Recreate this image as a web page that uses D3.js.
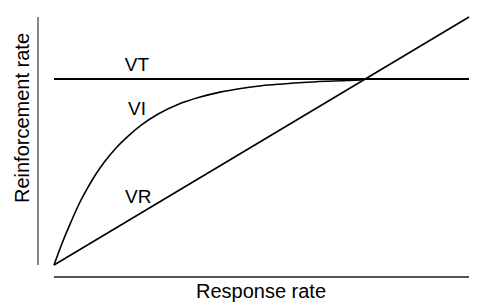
<!DOCTYPE html>
<html>
<head>
<meta charset="utf-8">
<script src="https://cdn.jsdelivr.net/npm/d3@7"></script>
<style>
  body { margin: 0; background: #fff; }
  svg { display: block; font-family: "Liberation Sans", Arial, sans-serif; }
</style>
</head>
<body>
<svg id="chart" width="485" height="306"></svg>
<script>
// response rate (x) vs reinforcement rate (y), both 0-100 arbitrary units
const vtLevel = 75;
const vrPoints = [[0, 0], [100, 100]];
const viX = [0, 2, 4, 6, 8, 10, 12, 15, 18, 21, 25, 30, 35, 40, 45, 50, 55, 60, 66, 74];
const viY = [0, 9.0, 17.0, 24.5, 30.8, 36.4, 41.2, 47.3, 52.2, 56.4, 60.8, 64.8, 67.6, 69.7, 71.2, 72.3, 73.0, 73.6, 74.1, 74.6];
const seriesLabels = ["VT", "VI", "VR"];
const labelX = [20, 20, 20.3];
const labelY = [78.2, 60.5, 25];

const svg = d3.select("#chart");
const x = d3.scaleLinear().domain([0, 100]).range([54, 469]);
const y = d3.scaleLinear().domain([0, 100]).range([265, 17]);

// axes: plain lines, no ticks
svg.append("line")
  .attr("x1", 38).attr("x2", 38)
  .attr("y1", y(100)).attr("y2", y(0))
  .attr("stroke", "#555").attr("stroke-width", 1.4);
svg.append("line")
  .attr("x1", x(0)).attr("x2", x(100))
  .attr("y1", 277).attr("y2", 277)
  .attr("stroke", "#555").attr("stroke-width", 2);

const line = d3.line().x((d) => x(d[0])).y((d) => y(d[1]));
const curve = d3.line().x((d) => x(d[0])).y((d) => y(d[1])).curve(d3.curveMonotoneX);

svg.append("path")
  .attr("d", line([[0, vtLevel], [100, vtLevel]]))
  .attr("fill", "none").attr("stroke", "#000").attr("stroke-width", 2.2);

svg.append("path")
  .attr("d", line(vrPoints))
  .attr("fill", "none").attr("stroke", "#000").attr("stroke-width", 1.6);

svg.append("path")
  .attr("d", curve(viX.map((v, i) => [v, viY[i]])))
  .attr("fill", "none").attr("stroke", "#000").attr("stroke-width", 1.6);

svg.selectAll("text.lbl")
  .data(seriesLabels)
  .join("text")
  .attr("class", "lbl")
  .attr("x", (d, i) => x(labelX[i]))
  .attr("y", (d, i) => y(labelY[i]))
  .attr("text-anchor", "middle")
  .style("font-size", "19px")
  .text((d) => d);

svg.append("text")
  .attr("x", 261).attr("y", 298)
  .attr("text-anchor", "middle")
  .style("font-size", "20px")
  .text("Response rate");

svg.append("text")
  .attr("transform", "translate(29,118) rotate(-90)")
  .attr("text-anchor", "middle")
  .style("font-size", "20px")
  .text("Reinforcement rate");
</script>
</body>
</html>
